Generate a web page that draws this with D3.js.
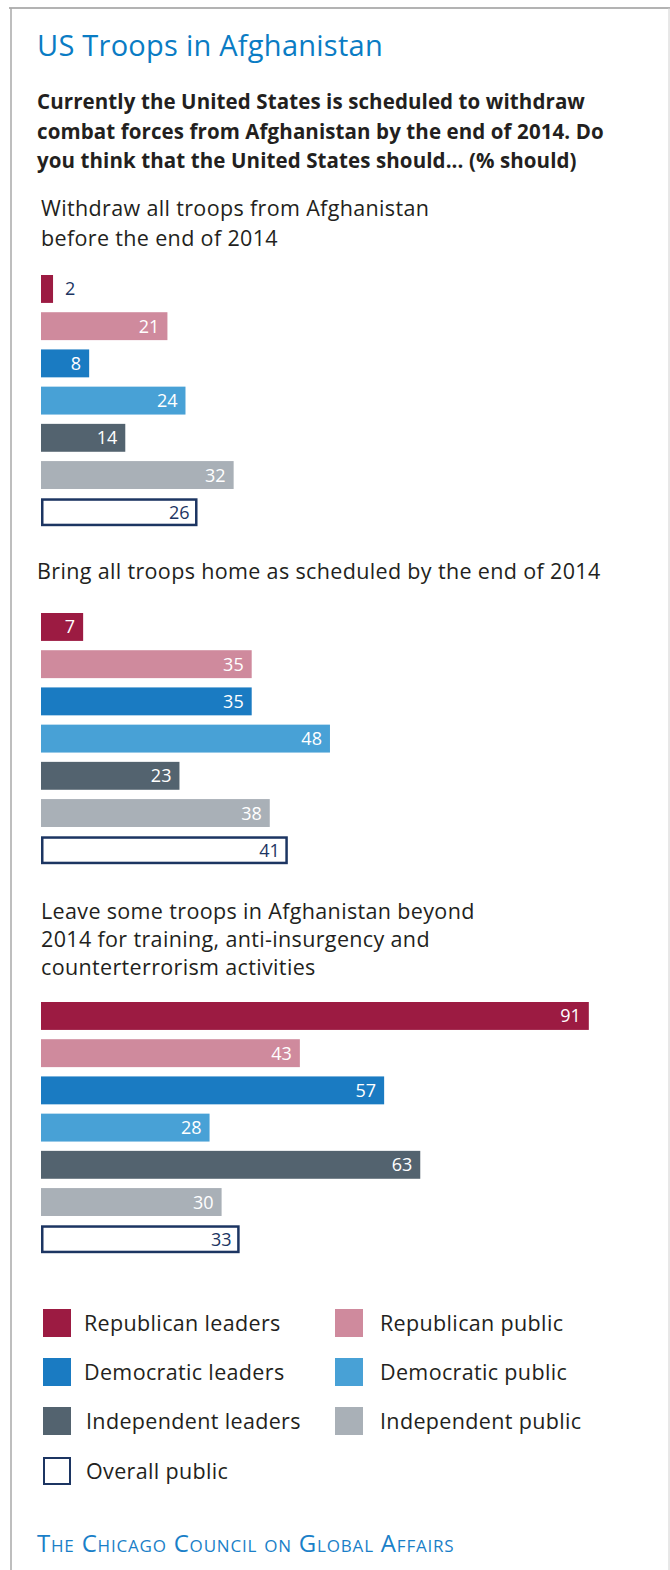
<!DOCTYPE html>
<html>
<head>
<meta charset="utf-8">
<script src="https://cdn.jsdelivr.net/npm/d3@7"></script>
<style>
  html, body { margin: 0; padding: 0; background: #fff; }
  svg { display: block; }
  text { font-family: "Open Sans", "Noto Sans", sans-serif; }
</style>
</head>
<body>
<svg id="chart" width="670" height="1570"></svg>
<script>
// Respondent groups, in drawing order
const categories = [
  "Republican leaders", "Republican public",
  "Democratic leaders", "Democratic public",
  "Independent leaders", "Independent public",
  "Overall public"
];
const colors = ["#9c1b42", "#cf8a9d", "#1a7bc2", "#48a1d6", "#53636f", "#a9b0b7", "#ffffff"];

// Question options (each drawn as its own block of bars)
const optionTitles = [
  ["Withdraw all troops from Afghanistan", "before the end of 2014"],
  ["Bring all troops home as scheduled by the end of 2014"],
  ["Leave some troops in Afghanistan beyond", "2014 for training, anti-insurgency and", "counterterrorism activities"]
];

// % saying the US should ... (one value per respondent group)
const withdrawEarly = [2, 21, 8, 24, 14, 32, 26];
const asScheduled   = [7, 35, 35, 48, 23, 38, 41];
const leaveSome     = [91, 43, 57, 28, 63, 30, 33];

const title = "US Troops in Afghanistan";
const question = [
  "Currently the United States is scheduled to withdraw",
  "combat forces from Afghanistan by the end of 2014. Do",
  "you think that the United States should... (% should)"
];
const source = "The Chicago Council on Global Affairs";

const svg = d3.select("#chart");
const navy = "#1c3562";
const ink = "#231f20";

// frame
svg.append("line").attr("x1", 9).attr("x2", 670).attr("y1", 8).attr("y2", 8)
  .attr("stroke", "#9a9a9a").attr("stroke-width", 1.5);
svg.append("line").attr("x1", 11).attr("x2", 11).attr("y1", 8).attr("y2", 1570)
  .attr("stroke", "#a8a8a8").attr("stroke-width", 1.5);
svg.append("line").attr("x1", 669).attr("x2", 669).attr("y1", 8).attr("y2", 1570)
  .attr("stroke", "#d0d0d0").attr("stroke-width", 1);

// headings
svg.append("text").attr("x", 37).attr("y", 56)
  .attr("font-size", 29).attr("letter-spacing", 0.25)
  .attr("fill", "#0a7cc4").text(title);

svg.append("g").selectAll("text").data(question).join("text")
  .attr("x", 37).attr("y", (d, i) => 109 + i * 29.5)
  .attr("font-size", 20.5).attr("letter-spacing", 0.1)
  .attr("font-weight", 700).attr("fill", ink)
  .text(d => d);

// shared value scale
const x = d3.scaleLinear().domain([0, 100]).range([41, 643]);

const blocks = [
  { values: withdrawEarly, titleX: 41, titleY: 216, lineH: 29.5, top: 275 },
  { values: asScheduled,   titleX: 37, titleY: 579, lineH: 29.5, top: 613 },
  { values: leaveSome,     titleX: 41, titleY: 919, lineH: 28,   top: 1002 }
];

blocks.forEach((b, bi) => {
  const g = svg.append("g");

  g.selectAll("text.opt").data(optionTitles[bi]).join("text")
    .attr("class", "opt")
    .attr("x", b.titleX).attr("y", (d, i) => b.titleY + i * b.lineH)
    .attr("font-size", 21.5).attr("letter-spacing", 0.35).attr("fill", ink)
    .text(d => d);

  const y = d3.scaleBand().domain(categories)
    .range([b.top, b.top + 6 * 37.2 + 28]).paddingInner(0.25).paddingOuter(0);

  const rows = categories.map((c, i) => ({ c, i, v: b.values[i] }));
  const outlined = d => d.c === "Overall public";

  g.selectAll("rect.bar").data(rows).join("rect")
    .attr("class", "bar")
    .attr("x", d => outlined(d) ? x(0) + 1.25 : x(0))
    .attr("y", d => outlined(d) ? y(d.c) + 1.25 : y(d.c))
    .attr("width", d => outlined(d) ? x(d.v) - x(0) - 2.5 : x(d.v) - x(0))
    .attr("height", d => outlined(d) ? y.bandwidth() - 2.5 : y.bandwidth())
    .attr("fill", d => colors[d.i])
    .attr("stroke", d => outlined(d) ? navy : "none")
    .attr("stroke-width", 2.5);

  g.selectAll("text.val").data(rows).join("text")
    .attr("class", "val")
    .each(function (d) {
      const inside = x(d.v) - x(0) >= 30;
      d3.select(this)
        .attr("x", inside ? x(d.v) - 8 : x(d.v) + 12)
        .attr("text-anchor", inside ? "end" : "start")
        .attr("fill", (!inside || outlined(d)) ? navy : "#ffffff");
    })
    .attr("y", d => y(d.c) + y.bandwidth() / 2 + 6.5)
    .attr("font-size", 18)
    .text(d => d.v);
});

// legend
const legend = svg.append("g");
const legendItems = categories.map((c, i) => ({
  c, i,
  col: i === 6 ? 0 : i % 2,
  row: Math.floor(i / 2)
}));
const lx = [43, 335], ltx = [84, 380];
const lRowY = [1323, 1372, 1421, 1471];

legend.selectAll("rect").data(legendItems).join("rect")
  .attr("x", d => lx[d.col] + (d.i === 6 ? 1 : 0))
  .attr("y", d => lRowY[d.row] - 14 + (d.i === 6 ? 1 : 0))
  .attr("width", d => d.i === 6 ? 26 : 28)
  .attr("height", d => d.i === 6 ? 26 : 28)
  .attr("fill", d => colors[d.i])
  .attr("stroke", d => d.i === 6 ? navy : "none")
  .attr("stroke-width", 2);

legend.selectAll("text").data(legendItems).join("text")
  .attr("x", d => ltx[d.col] + (d.row >= 2 && d.col === 0 ? 2 : 0))
  .attr("y", d => lRowY[d.row] + 7.5)
  .attr("font-size", 21.5).attr("letter-spacing", 0.35).attr("fill", ink)
  .text(d => d.c);

// source line
svg.append("text").attr("x", 37).attr("y", 1552)
  .attr("font-size", 24).attr("letter-spacing", 0.8).attr("fill", "#1a7fc8")
  .style("font-variant", "small-caps")
  .text(source);
</script>
</body>
</html>
